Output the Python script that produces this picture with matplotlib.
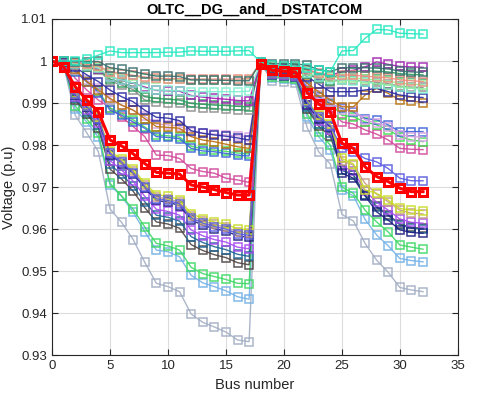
import numpy as np
import matplotlib.pyplot as plt

plt.rcParams['font.family'] = ['Liberation Sans', 'DejaVu Sans']

# bus index 0..32 (33-bus feeder), one profile per load case
bus = np.arange(33)

v_turq = [1.0, 1.0, 1.0, 1.0004, 1.0014, 1.0024, 1.0020, 1.0020, 1.0020, 1.0020, 1.0021, 1.0021, 1.0024, 1.0023, 1.0023, 1.0023, 1.0024, 1.0025,
          0.9997, 0.9990, 0.9989, 0.9988, 0.9983, 0.9978, 0.9975,
          1.0024, 1.0025, 1.0054, 1.0075, 1.0074, 1.0066, 1.0065, 1.0064]
v_slate = [1.0, 0.9999, 0.9998, 0.9998, 0.9999, 0.9984, 0.9980, 0.9975, 0.9969, 0.9964, 0.9964, 0.9963, 0.9955, 0.9955, 0.9954, 0.9954, 0.9953, 0.9953,
           0.9998, 0.9994, 0.9994, 0.9993, 0.9990, 0.9979, 0.9975,
           0.9984, 0.9984, 0.9984, 0.9983, 0.9981, 0.9976, 0.9974, 0.9973]
v_salmon = [1.0, 0.9999, 0.9996, 0.9992, 0.9988, 0.9975, 0.9970, 0.9966, 0.9962, 0.9959, 0.9958, 0.9958, 0.9957, 0.9957, 0.9957, 0.9957, 0.9957, 0.9958,
            0.9996, 0.9990, 0.9989, 0.9988, 0.9980, 0.9972, 0.9967,
            0.9967, 0.9966, 0.9964, 0.9962, 0.9960, 0.9955, 0.9953, 0.9951]
v_lgreen = [1.0, 0.9999, 0.9995, 0.9990, 0.9986, 0.9972, 0.9968, 0.9964, 0.9960, 0.9957, 0.9957, 0.9956, 0.9955, 0.9955, 0.9954, 0.9954, 0.9954, 0.9955,
            0.9995, 0.9988, 0.9987, 0.9986, 0.9976, 0.9968, 0.9962,
            0.9960, 0.9959, 0.9957, 0.9955, 0.9952, 0.9947, 0.9945, 0.9943]
v_aqua = [1.0, 0.9999, 0.9993, 0.9988, 0.9983, 0.9962, 0.9955, 0.9948, 0.9935, 0.9931, 0.9930, 0.9929, 0.9927, 0.9927, 0.9927, 0.9927, 0.9927, 0.9928,
          0.9995, 0.9987, 0.9986, 0.9985, 0.9972, 0.9962, 0.9956,
          0.9955, 0.9953, 0.9950, 0.9946, 0.9943, 0.9937, 0.9935, 0.9933]
v_purple = [1.0, 0.9999, 0.9994, 0.9988, 0.9982, 0.9962, 0.9955, 0.9947, 0.9938, 0.9930, 0.9929, 0.9928, 0.9918, 0.9914, 0.9911, 0.9909, 0.9906, 0.9905,
            0.9996, 0.9990, 0.9989, 0.9988, 0.9978, 0.9970, 0.9965,
            0.9975, 0.9978, 0.9986, 0.9998, 0.9992, 0.9987, 0.9986, 0.9985]
v_seagreen = [1.0, 0.9999, 0.9992, 0.9986, 0.9980, 0.9957, 0.9948, 0.9938, 0.9915, 0.9911, 0.9909, 0.9907, 0.9899, 0.9897, 0.9895, 0.9894, 0.9892, 0.9891,
              0.9995, 0.9986, 0.9985, 0.9984, 0.9970, 0.9960, 0.9953,
              0.9975, 0.9975, 0.9976, 0.9976, 0.9974, 0.9970, 0.9968, 0.9967]
v_grey = [1.0, 0.9999, 0.9991, 0.9985, 0.9978, 0.9952, 0.9943, 0.9932, 0.9907, 0.9903, 0.9901, 0.9899, 0.9891, 0.9889, 0.9887, 0.9885, 0.9884, 0.9883,
          0.9995, 0.9986, 0.9985, 0.9984, 0.9968, 0.9958, 0.9951,
          0.9955, 0.9954, 0.9952, 0.9949, 0.9946, 0.9940, 0.9938, 0.9937]
v_dblue = [1.0, 0.9998, 0.9985, 0.9967, 0.9951, 0.9931, 0.9915, 0.9903, 0.9883, 0.9866, 0.9864, 0.9858, 0.9834, 0.9828, 0.9824, 0.9821, 0.9817, 0.9812,
           0.9994, 0.9983, 0.9982, 0.9981, 0.9963, 0.9945, 0.9927,
           0.9927, 0.9927, 0.9931, 0.9935, 0.9927, 0.9919, 0.9915, 0.9913]
v_brown = [1.0, 0.9998, 0.9980, 0.9951, 0.9931, 0.9911, 0.9895, 0.9883, 0.9863, 0.9844, 0.9842, 0.9840, 0.9820, 0.9812, 0.9808, 0.9802, 0.9796, 0.9792,
           0.9992, 0.9983, 0.9981, 0.9979, 0.9947, 0.9927, 0.9907,
           0.9891, 0.9891, 0.9919, 0.9935, 0.9923, 0.9907, 0.9905, 0.9901]
v_lavender = [1.0, 0.9998, 0.9978, 0.9955, 0.9935, 0.9908, 0.9895, 0.9883, 0.9868, 0.9850, 0.9848, 0.9845, 0.9832, 0.9828, 0.9826, 0.9824, 0.9822, 0.9820,
              0.9993, 0.9980, 0.9978, 0.9976, 0.9942, 0.9920, 0.9902,
              0.9883, 0.9882, 0.9860, 0.9852, 0.9844, 0.9824, 0.9820, 0.9819]
v_mblue = [1.0, 0.9997, 0.9975, 0.9950, 0.9925, 0.9883, 0.9871, 0.9855, 0.9840, 0.9820, 0.9818, 0.9815, 0.9792, 0.9786, 0.9784, 0.9780, 0.9776, 0.9774,
           0.9993, 0.9978, 0.9976, 0.9974, 0.9938, 0.9915, 0.9898,
           0.9887, 0.9879, 0.9863, 0.9860, 0.9848, 0.9832, 0.9832, 0.9832]
v_bgreen = [1.0, 0.9997, 0.9976, 0.9952, 0.9928, 0.9888, 0.9875, 0.9860, 0.9843, 0.9824, 0.9822, 0.9819, 0.9797, 0.9791, 0.9788, 0.9785, 0.9781, 0.9779,
            0.9993, 0.9979, 0.9977, 0.9975, 0.9940, 0.9917, 0.9900,
            0.9871, 0.9867, 0.9855, 0.9848, 0.9836, 0.9820, 0.9812, 0.9808]
v_pink = [1.0, 0.9997, 0.9959, 0.9931, 0.9907, 0.9889, 0.9867, 0.9844, 0.9820, 0.9776, 0.9775, 0.9768, 0.9744, 0.9737, 0.9733, 0.9721, 0.9717, 0.9711,
          0.9993, 0.9977, 0.9975, 0.9973, 0.9930, 0.9905, 0.9885,
          0.9855, 0.9850, 0.9836, 0.9826, 0.9812, 0.9792, 0.9790, 0.9789]
v_violet = [1.0, 0.9992, 0.9921, 0.9892, 0.9863, 0.9780, 0.9759, 0.9734, 0.9701, 0.9672, 0.9668, 0.9660, 0.9627, 0.9614, 0.9606, 0.9600, 0.9589, 0.9585,
            0.9995, 0.9971, 0.9969, 0.9967, 0.9902, 0.9867, 0.9846,
            0.9792, 0.9784, 0.9768, 0.9760, 0.9744, 0.9721, 0.9715, 0.9715]
v_yellow = [1.0, 0.9992, 0.9923, 0.9895, 0.9867, 0.9786, 0.9766, 0.9742, 0.9710, 0.9682, 0.9678, 0.9670, 0.9637, 0.9625, 0.9617, 0.9611, 0.9601, 0.9597,
            0.9995, 0.9972, 0.9970, 0.9968, 0.9905, 0.9871, 0.9851,
            0.9768, 0.9755, 0.9693, 0.9685, 0.9669, 0.9649, 0.9645, 0.9644]
v_tan = [1.0, 0.9992, 0.9922, 0.9893, 0.9865, 0.9783, 0.9762, 0.9738, 0.9705, 0.9676, 0.9672, 0.9664, 0.9631, 0.9619, 0.9611, 0.9604, 0.9594, 0.9590,
         0.9995, 0.9971, 0.9969, 0.9967, 0.9904, 0.9869, 0.9848,
         0.9763, 0.9752, 0.9709, 0.9683, 0.9665, 0.9645, 0.9638, 0.9636]
v_navy = [1.0, 0.9992, 0.9920, 0.9891, 0.9861, 0.9777, 0.9756, 0.9731, 0.9698, 0.9668, 0.9664, 0.9656, 0.9622, 0.9609, 0.9601, 0.9595, 0.9584, 0.9580,
          0.9995, 0.9971, 0.9969, 0.9966, 0.9895, 0.9863, 0.9844,
          0.9733, 0.9721, 0.9679, 0.9641, 0.9621, 0.9598, 0.9592, 0.9590]
v_bpurple = [1.0, 0.9991, 0.9915, 0.9884, 0.9852, 0.9763, 0.9741, 0.9714, 0.9678, 0.9647, 0.9642, 0.9633, 0.9598, 0.9584, 0.9575, 0.9569, 0.9557, 0.9553,
             0.9995, 0.9969, 0.9966, 0.9964, 0.9895, 0.9857, 0.9835,
             0.9749, 0.9738, 0.9691, 0.9664, 0.9645, 0.9624, 0.9616, 0.9614]
v_steel = [1.0, 0.9991, 0.9912, 0.9879, 0.9847, 0.9754, 0.9730, 0.9702, 0.9665, 0.9633, 0.9628, 0.9619, 0.9582, 0.9568, 0.9558, 0.9551, 0.9540, 0.9535,
           0.9994, 0.9967, 0.9965, 0.9963, 0.9891, 0.9851, 0.9828,
           0.9740, 0.9728, 0.9680, 0.9652, 0.9632, 0.9610, 0.9602, 0.9600]
v_dgrey = [1.0, 0.9990, 0.9908, 0.9874, 0.9840, 0.9743, 0.9719, 0.9690, 0.9651, 0.9617, 0.9612, 0.9602, 0.9563, 0.9549, 0.9539, 0.9532, 0.9520, 0.9515,
           0.9994, 0.9966, 0.9964, 0.9961, 0.9886, 0.9845, 0.9821,
           0.9741, 0.9729, 0.9682, 0.9654, 0.9634, 0.9612, 0.9604, 0.9602]
v_green = [1.0, 0.9993, 0.9893, 0.9862, 0.9828, 0.9709, 0.9679, 0.9647, 0.9605, 0.9566, 0.9560, 0.9550, 0.9509, 0.9494, 0.9487, 0.9480, 0.9471, 0.9470,
           0.9994, 0.9963, 0.9960, 0.9958, 0.9875, 0.9830, 0.9800,
           0.9700, 0.9685, 0.9645, 0.9617, 0.9593, 0.9562, 0.9557, 0.9552]
v_lblue = [1.0, 0.9992, 0.9885, 0.9855, 0.9818, 0.9705, 0.9678, 0.9640, 0.9594, 0.9550, 0.9546, 0.9534, 0.9490, 0.9472, 0.9463, 0.9453, 0.9439, 0.9433,
           0.9994, 0.9960, 0.9957, 0.9955, 0.9867, 0.9820, 0.9788,
           0.9693, 0.9679, 0.9623, 0.9586, 0.9560, 0.9530, 0.9525, 0.9522]
v_greyblue = [1.0, 0.9990, 0.9871, 0.9829, 0.9784, 0.9648, 0.9616, 0.9575, 0.9521, 0.9471, 0.9463, 0.9451, 0.9398, 0.9378, 0.9367, 0.9355, 0.9336, 0.9332,
              0.9993, 0.9953, 0.9950, 0.9947, 0.9842, 0.9784, 0.9755,
              0.9635, 0.9619, 0.9566, 0.9526, 0.9497, 0.9461, 0.9455, 0.9451]
v_red = [1.0, 0.9986, 0.9939, 0.9907, 0.9879, 0.9812, 0.9798, 0.9779, 0.9756, 0.9735, 0.9733, 0.9731, 0.9705, 0.9700, 0.9694, 0.9687, 0.9681, 0.9681,
         0.9993, 0.9978, 0.9976, 0.9974, 0.9925, 0.9898, 0.9879,
         0.9804, 0.9792, 0.9748, 0.9725, 0.9713, 0.9697, 0.9689, 0.9689]

profiles = [
    (v_greyblue, '#a3aec4'), (v_lblue, '#74b2e6'), (v_green, '#3fd866'),
    (v_dgrey, '#4e4444'), (v_steel, '#1f6595'), (v_bpurple, '#a64cf0'),
    (v_navy, '#1e2080'), (v_tan, '#c49a84'), (v_yellow, '#c8dc28'),
    (v_violet, '#5a5ae0'), (v_pink, '#d0479a'), (v_bgreen, '#3ce050'),
    (v_mblue, '#3c64d8'), (v_lavender, '#d6a0e0'), (v_brown, '#b8700f'),
    (v_dblue, '#2a2aa0'), (v_grey, '#8c8c8c'), (v_seagreen, '#2e9e60'),
    (v_purple, '#a020b0'), (v_aqua, '#80f0d0'), (v_lgreen, '#98e890'),
    (v_salmon, '#f08a80'), (v_slate, '#3b6e6e'), (v_turq, '#26e8c0'),
]

fig = plt.figure(figsize=(4.86, 4.04), dpi=100)
ax = fig.add_axes([0.107, 0.121, 0.835, 0.832])

for vals, col in profiles:
    ax.plot(bus, vals, color=col, lw=1.0, marker='s', ms=5.5, mfc='none', mew=1.1, alpha=0.9)
ax.plot(bus, v_red, color='#ff0000', lw=2.2, marker='s', ms=6, mfc='none', mew=2.2)

ax.set_xlim(0, 35)
ax.set_ylim(0.93, 1.01)
ax.set_xticks(np.arange(0, 36, 5))
ax.set_yticks([0.93, 0.94, 0.95, 0.96, 0.97, 0.98, 0.99, 1.0, 1.01])
ax.set_yticklabels(['0.93', '0.94', '0.95', '0.96', '0.97', '0.98', '0.99', '1', '1.01'])
ax.grid(True, color='#dcdcdc', lw=0.8)
ax.set_axisbelow(True)
ax.tick_params(direction='in', top=True, right=True, labelsize=9.5, colors='#262626', length=4)
for s in ax.spines.values():
    s.set_color('#262626')
    s.set_linewidth(0.8)

ax.set_xlabel('Bus number', fontsize=10.5, color='#262626')
ax.set_ylabel('Voltage (p.u)', fontsize=10.5, color='#262626')
ax.set_title('OLTC__DG__and__DSTATCOM', fontsize=10.5, fontweight='bold', pad=4)

fig.savefig('out.png', dpi=100)
